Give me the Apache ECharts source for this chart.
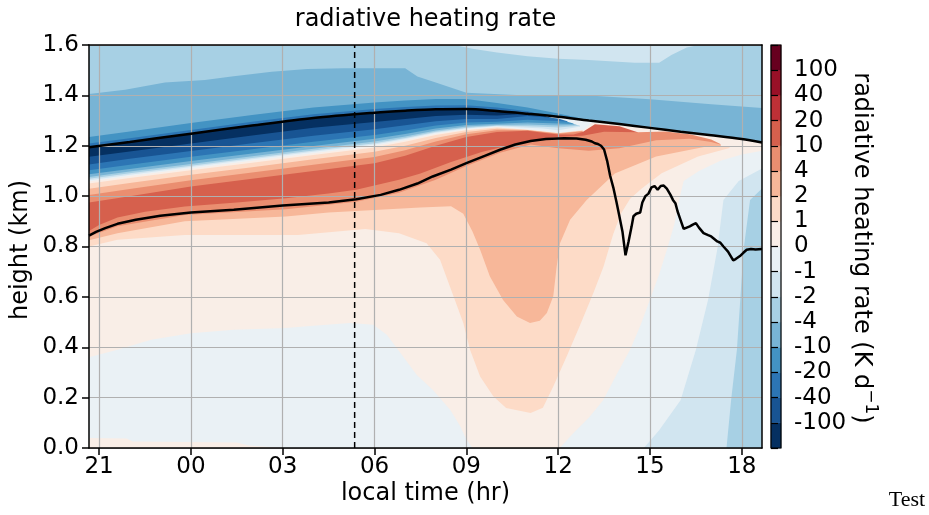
<!DOCTYPE html>
<html><head><meta charset="utf-8">
<script src="https://cdn.jsdelivr.net/npm/echarts@6/dist/echarts.min.js"></script>
<style>html,body{margin:0;padding:0;background:#fff}#c{width:929px;height:515px}</style>
</head><body><div id="c"></div>
<script>
// ================= DATA =================
// colour levels (K/day), contourf with extend='both' -> 16 colour bands
const levelBounds = [-100, -40, -20, -10, -4, -2, -1, 0, 1, 2, 4, 10, 20, 40, 100];
// x axis: local time in hours since midnight of day 1 (24 = 00 next day)
const timeTicks = [21, 24, 27, 30, 33, 36, 39, 42];
const heightTicks = [0, 0.2, 0.4, 0.6, 0.8, 1.0, 1.2, 1.4, 1.6];
const markerTime = 29.35;

// cloud top (upper black line) [time, km]
const cloudTop = [[20.67,1.194],[22,1.215],[24,1.248],[26,1.28],[28,1.31],[30,1.331],[31,1.339],[32,1.345],[33,1.346],[34,1.338],[35,1.327],[36,1.315],[37,1.30],[38,1.286],[39,1.271],[40,1.256],[41,1.242],[42,1.227],[42.66,1.213]];
// cloud base (lower black line)
const cloudBase = [[20.67,0.843],[20.9,0.858],[21.2,0.873],[21.6,0.89],[22.2,0.906],[23,0.922],[24,0.935],[25.4,0.946],[27,0.963],[28.5,0.975],[29.4,0.988],[30.2,1.005],[30.8,1.025],[31.4,1.05],[31.9,1.078],[32.5,1.105],[33,1.131],[33.6,1.16],[34.1,1.184],[34.6,1.205],[35.1,1.219],[35.6,1.227],[36.2,1.23],[36.6,1.229],[36.9,1.224],[37.1,1.217],[37.2,1.21],[37.3,1.207],[37.4,1.2],[37.5,1.185],[37.6,1.14],[37.7,1.08],[37.8,1.035],[37.9,0.98],[38.0,0.92],[38.1,0.86],[38.2,0.765],[38.3,0.82],[38.4,0.88],[38.46,0.92],[38.55,0.93],[38.68,0.935],[38.75,0.975],[38.85,1.0],[38.95,1.01],[39.05,1.035],[39.15,1.04],[39.25,1.025],[39.35,1.04],[39.45,1.042],[39.55,1.03],[39.67,1.005],[39.75,0.985],[39.83,0.972],[39.9,0.94],[40.0,0.905],[40.1,0.87],[40.2,0.875],[40.3,0.88],[40.4,0.887],[40.5,0.893],[40.6,0.875],[40.75,0.853],[40.9,0.845],[41.0,0.84],[41.1,0.83],[41.2,0.82],[41.3,0.815],[41.4,0.8],[41.55,0.78],[41.72,0.745],[41.8,0.75],[41.94,0.762],[42.05,0.775],[42.16,0.787],[42.3,0.79],[42.45,0.788],[42.66,0.79]];

// Contour band edges: each array is the upper edge [time, km] of a band of one colour level.
const edgeBackground6 = [[20.67,1.6],[42.66,1.6]];
const edgeUpper5 = [[20.67,1.6],[32.6,1.6],[33.2,1.585],[34,1.57],[35,1.555],[36,1.545],[37,1.54],[38.5,1.53],[39.3,1.53],[39.7,1.56],[40.2,1.59],[40.6,1.6],[42.66,1.6]];
const edgeUpper4 = [[20.67,1.405],[21.85,1.422],[23.15,1.451],[24.46,1.461],[25.33,1.475],[26.64,1.494],[27.8,1.505],[29,1.508],[31,1.508],[31.4,1.475],[31.9,1.455],[33,1.41],[35,1.40],[37,1.40],[39,1.385],[41,1.365],[42.66,1.35]];
const edgeUpper3 = [[20.67,1.235],[22,1.257],[24,1.29],[26,1.322],[28,1.352],[30,1.372],[31,1.38],[32,1.386],[33,1.386],[34,1.37],[35,1.352],[36,1.328],[36.5,1.315],[37,1.30]];
const edgeUpper2 = [[20.67,1.209],[22,1.23],[24,1.263],[26,1.295],[28,1.325],[30,1.346],[31,1.354],[32,1.36],[33,1.361],[34,1.352],[35,1.337],[35.6,1.32]];
const edgeTipPale7 = [[35.5,1.321],[36,1.315],[37,1.30],[37.6,1.291]];
const edgeCool0 = [[20.67,1.194],[22,1.215],[24,1.248],[26,1.28],[28,1.31],[30,1.331],[31,1.339],[32,1.345],[33,1.346],[34,1.338],[34.9,1.328]];
const edgeCool1 = [[20.67,1.156],[22,1.177],[24,1.209],[26,1.241],[28,1.271],[30,1.294],[31,1.306],[32,1.318],[33,1.323],[34,1.32],[35,1.327],[35.5,1.321],[35.8,1.31]];
const edgeCool2 = [[20.67,1.126],[22,1.148],[24,1.179],[26,1.21],[28,1.24],[30,1.266],[31,1.281],[32,1.297],[33,1.306],[34,1.306],[35,1.318],[35.5,1.314],[36,1.308],[36.3,1.297]];
const edgeCool3 = [[20.67,1.103],[22,1.125],[24,1.156],[26,1.186],[28,1.216],[30,1.243],[31,1.261],[32,1.28],[33,1.292],[34,1.295],[35,1.303],[35.5,1.30],[36,1.298],[36.3,1.295],[36.5,1.288]];
const edgeCool4 = [[20.67,1.087],[22,1.108],[24,1.139],[26,1.169],[28,1.199],[30,1.228],[31,1.247],[32,1.268],[33,1.282],[34,1.287],[35,1.292],[35.5,1.29],[36,1.288],[36.5,1.286],[36.6,1.283]];
const edgeCool5 = [[20.67,1.076],[22,1.098],[24,1.128],[26,1.158],[28,1.188],[30,1.217],[31,1.237],[32,1.261],[33,1.276],[34,1.282],[35,1.284],[35.5,1.282],[36,1.28],[36.6,1.282],[36.7,1.28]];
const edgeCool6 = [[20.67,1.069],[22,1.091],[24,1.121],[26,1.151],[28,1.181],[30,1.21],[31,1.231],[32,1.256],[33,1.271],[34,1.279],[35,1.277],[35.5,1.275],[36,1.272],[36.7,1.279],[36.75,1.278]];
const edgeCool7 = [[20.67,1.063],[22,1.085],[24,1.116],[26,1.146],[28,1.176],[30,1.205],[31,1.227],[32,1.252],[33,1.268],[34,1.277],[35,1.271],[35.5,1.268],[36,1.262],[36.75,1.276],[36.85,1.272]];
const edgeWarm8Upper = [[20.67,1.058],[22,1.08],[24,1.11],[26,1.14],[28,1.17],[30,1.20],[31,1.222],[32,1.248],[33,1.265],[34,1.274],[35,1.265],[35.5,1.26],[36,1.252],[36.5,1.255],[36.85,1.265],[37.1,1.29],[37.3,1.293],[38,1.284],[39,1.269],[40,1.254],[41,1.24],[42,1.225],[42.66,1.211]];
const edgeWarm9Upper = [[20.67,1.05],[22,1.072],[24,1.103],[26,1.133],[28,1.163],[30,1.193],[31,1.216],[32,1.243],[33,1.262],[34,1.272],[35,1.264],[36,1.251],[36.8,1.262]];
const edgeWarm10Upper = [[20.67,1.029],[22,1.052],[24,1.085],[26,1.115],[28,1.146],[30,1.176],[31,1.20],[32,1.231],[33,1.255],[34,1.267],[35,1.263],[36,1.25],[36.8,1.26]];
const edgeWarm11Upper = [[20.67,1.004],[22,1.028],[24,1.063],[26,1.094],[28,1.125],[30,1.155],[31,1.182],[32,1.217],[33,1.246],[34,1.262],[35,1.262],[36,1.248],[36.8,1.258]];
const edgeWarm12 = [[20.67,0.975],[22,1.0],[24,1.038],[26,1.069],[28,1.1],[30,1.131],[31,1.16],[32,1.2],[33,1.235],[34,1.255],[35,1.26],[35.5,1.252],[36,1.245],[36.5,1.245],[36.8,1.255],[37.2,1.285],[38,1.277],[38.6,1.254]];
const edgeWarm11Lower = [[20.67,0.862],[21,0.885],[21.6,0.915],[22.5,0.938],[23.8,0.959],[25.5,0.975],[27.1,0.992],[28.5,1.01],[29.4,1.025],[30.8,1.065],[31.5,1.09],[32.5,1.135],[33.5,1.175],[34.5,1.205],[35.1,1.22],[35.9,1.235],[36.8,1.24],[37.5,1.256],[38.6,1.254],[39.5,1.257],[40.3,1.246],[41.0,1.225],[41.3,1.207]];
const edgeWarm10Lower = [[20.67,0.84],[21.6,0.88],[23.8,0.925],[25.5,0.937],[27.1,0.948],[29.4,0.978],[30.8,1.013],[32,1.065],[33,1.12],[34.1,1.172],[35.1,1.205],[36,1.19],[37,1.18],[38,1.19],[39.2,1.222],[40.3,1.228],[41.0,1.215],[41.3,1.205]];
const edgeWarm9Lower = [[20.67,0.825],[21.6,0.853],[23.8,0.9],[27.1,0.919],[28.5,0.935],[30,0.945],[31.5,0.955],[32.5,0.96],[32.9,0.93],[33.2,0.86],[33.45,0.787],[33.77,0.681],[34.2,0.588],[34.65,0.522],[35.08,0.496],[35.4,0.505],[35.63,0.536],[35.84,0.602],[35.95,0.72],[36.06,0.813],[36.39,0.906],[36.93,0.985],[37.85,1.09],[39.2,1.157],[40.85,1.197],[41.6,1.195]];
const edgeWarm8Main = [[20.67,0.80],[21.6,0.827],[23.8,0.846],[27.5,0.846],[29.7,0.869],[30.8,0.853],[31.7,0.813],[32.14,0.747],[32.58,0.602],[32.9,0.496],[33.12,0.39],[33.45,0.284],[33.88,0.205],[34.3,0.159],[35.1,0.139],[35.5,0.16],[35.84,0.244],[36.28,0.364],[36.7,0.483],[37.15,0.615],[37.48,0.72],[37.8,0.85],[38.05,0.93],[38.35,0.99],[38.73,1.03],[39.38,1.091],[40.57,1.157],[41.78,1.197],[42.66,1.21]];
const edgeCool7LowLeft = [[20.67,0.36],[21.6,0.39],[22.7,0.43],[24,0.456],[25.4,0.469],[27.1,0.476],[28,0.485],[29.2,0.496],[29.96,0.489],[30.4,0.45],[30.83,0.38],[31.38,0.29],[31.9,0.231],[32.47,0.152],[32.8,0.086],[33.0,0.035],[33.2,0.0]];
const edgeWarm8Strip = [[20.67,0.04],[21.9,0.038],[22.1,0.026],[25.5,0.022],[25.9,0.01],[27,0.0]];
const edgeCool7Right = [[36.05,0.0],[36.5,0.06],[37.0,0.12],[37.47,0.19],[37.9,0.29],[38.35,0.39],[38.7,0.49],[39.0,0.59],[39.3,0.69],[39.56,0.79],[39.8,0.89],[39.95,0.985],[40.1,1.06],[40.6,1.1],[41.3,1.14],[42,1.165],[42.66,1.18]];
const edgeCool6Right = [[38.8,0.0],[39.3,0.07],[40.0,0.19],[40.5,0.39],[40.9,0.59],[41.2,0.79],[41.4,0.985],[41.9,1.06],[42.66,1.11]];
const edgeCool5Right = [[41.5,0.0],[41.65,0.19],[41.84,0.39],[41.95,0.59],[42.06,0.79],[42.27,0.985],[42.66,1.03]];

// colour level of each band (0 = below -100 ... 7 = -1..0, 8 = 0..1 ... 15 = above 100), in painting order
const bandLevels = [6, 5, 4, 3, 2, 7, 0, 1, 2, 3, 4, 5, 6, 7, 8, 9, 10, 11, 12, 11, 10, 9, 8, 7, 8, 7, 6, 5];
const bandEdges = [edgeBackground6, edgeUpper5, edgeUpper4, edgeUpper3, edgeUpper2, edgeTipPale7,
  edgeCool0, edgeCool1, edgeCool2, edgeCool3, edgeCool4, edgeCool5, edgeCool6, edgeCool7,
  edgeWarm8Upper, edgeWarm9Upper, edgeWarm10Upper, edgeWarm11Upper, edgeWarm12,
  edgeWarm11Lower, edgeWarm10Lower, edgeWarm9Lower, edgeWarm8Main, edgeCool7LowLeft, edgeWarm8Strip,
  edgeCool7Right, edgeCool6Right, edgeCool5Right];
// ================================================================

// colour-map (RdBu reversed), sampled at 16 evenly spaced points
const rdbuR = ['#053061','#2166ac','#4393c3','#92c5de','#d1e5f0','#f7f7f7','#fddbc7','#f4a582','#d6604d','#b2182b','#67001f'];
function hex(h){return [1,3,5].map(i=>parseInt(h.substr(i,2),16));}
function cmap(p){
  const x = p*10, i = Math.min(9, Math.floor(x)), f = x - i;
  const a = hex(rdbuR[i]), b = hex(rdbuR[i+1]);
  const c = a.map((v,j)=>Math.round(v+(b[j]-v)*f));
  return 'rgb('+c.join(',')+')';
}
const levelColors = []; for (let k=0;k<16;k++) levelColors.push(cmap(k/15));

const FONT = "'DejaVu Sans', sans-serif";
const fmtTime = v => String(((Math.round(v) % 24) + 24) % 24).padStart(2, '0');
const cbLabels = levelBounds.map(v => v < 0 ? '-' + Math.abs(v) : String(v));

const chart = echarts.init(document.getElementById('c'), null, {renderer: 'canvas'});

const fieldSeries = bandEdges.map((pts, i) => ({
  type: 'line', xAxisIndex: 0, yAxisIndex: 0, data: pts, symbol: 'none', showSymbol: false,
  lineStyle: {width: 0, opacity: 0}, silent: true, z: 1,
  areaStyle: {color: levelColors[bandLevels[i]], opacity: 1, origin: 'start'}
}));

const option = {
  animation: false,
  backgroundColor: '#fff',
  grid: [
    {left: 89, top: 45, width: 673, height: 403, show: false},
    {left: 771, top: 45, width: 10, height: 403, show: false}
  ],
  xAxis: [
    {type: 'value', gridIndex: 0, min: 20.67, max: 42.66, position: 'bottom', z: 5,
     axisLine: {show: true, onZero: false, lineStyle: {color: '#000', width: 1.5}},
     axisTick: {show: true, customValues: timeTicks, length: 7, lineStyle: {color: '#000', width: 1.5}},
     axisLabel: {customValues: timeTicks, formatter: fmtTime, color: '#000', fontSize: 23, fontFamily: FONT, margin: 8},
     splitLine: {show: true, lineStyle: {color: '#b0b0b0', width: 1.2}}},
    {type: 'value', gridIndex: 0, min: 20.67, max: 42.66, position: 'top', z: 5,
     axisLine: {show: true, onZero: false, lineStyle: {color: '#000', width: 1.5}},
     axisTick: {show: false}, axisLabel: {show: false}, splitLine: {show: false}},
    {type: 'value', gridIndex: 1, min: 0, max: 1, show: false}
  ],
  yAxis: [
    {type: 'value', gridIndex: 0, min: 0, max: 1.6, interval: 0.2, position: 'left', z: 5,
     axisLine: {show: true, onZero: false, lineStyle: {color: '#000', width: 1.5}},
     axisTick: {show: true, length: 7, lineStyle: {color: '#000', width: 1.5}},
     axisLabel: {formatter: v => v.toFixed(1), color: '#000', fontSize: 23, fontFamily: FONT, margin: 10},
     splitLine: {show: true, lineStyle: {color: '#b0b0b0', width: 1.2}}},
    {type: 'value', gridIndex: 0, min: 0, max: 1.6, position: 'right', z: 5,
     axisLine: {show: true, onZero: false, lineStyle: {color: '#000', width: 1.5}},
     axisTick: {show: false}, axisLabel: {show: false}, splitLine: {show: false}},
    {type: 'value', gridIndex: 1, min: 0, max: 16, interval: 1, position: 'right', z: 5,
     axisLine: {show: false},
     axisTick: {show: true, length: 7, lineStyle: {color: '#000', width: 1.2}},
     axisLabel: {formatter: v => (v >= 1 && v <= 15) ? cbLabels[v-1] : '', color: '#000', fontSize: 23, fontFamily: FONT, margin: 13},
     splitLine: {show: false}}
  ],
  graphic: [
    {type: 'text', x: 425.5, y: 20, style: {text: 'radiative heating rate', font: '24px ' + FONT, fill: '#000', textAlign: 'center', textVerticalAlign: 'middle'}},
    {type: 'text', x: 425.5, y: 494, style: {text: 'local time (hr)', font: '24px ' + FONT, fill: '#000', textAlign: 'center', textVerticalAlign: 'middle'}},
    {type: 'text', x: 21, y: 250, rotation: Math.PI/2, style: {text: 'height (km)', font: '24px ' + FONT, fill: '#000', textAlign: 'center', textVerticalAlign: 'middle'}},
    {type: 'text', x: 864, y: 248, rotation: -Math.PI/2, style: {
      text: '{a|radiative heating rate (K d}{s|\u22121}{a|)}', textAlign: 'center', textVerticalAlign: 'middle',
      rich: {a: {fontSize: 24, fontFamily: FONT, fill: '#000', lineHeight: 30, verticalAlign: 'bottom'},
             s: {fontSize: 17, fontFamily: FONT, fill: '#000', lineHeight: 30, verticalAlign: 'top'}}}},
    {type: 'text', x: 907, y: 500, style: {text: 'Test', font: "22px 'Liberation Serif', 'DejaVu Serif', serif", fill: '#000', textAlign: 'center', textVerticalAlign: 'middle'}}
  ],
  series: fieldSeries.concat([
    {type: 'line', xAxisIndex: 0, yAxisIndex: 0, data: cloudTop, symbol: 'none', z: 20, silent: true, smooth: 0.3,
     lineStyle: {color: '#000', width: 2.5}},
    {type: 'line', xAxisIndex: 0, yAxisIndex: 0, data: cloudBase, symbol: 'none', z: 20, silent: true,
     lineStyle: {color: '#000', width: 2.5}},
    {type: 'line', xAxisIndex: 0, yAxisIndex: 0, data: [[markerTime, 0], [markerTime, 1.6]], symbol: 'none', z: 20, silent: true,
     lineStyle: {color: '#000', width: 1.5, type: [6, 4]}},
    {type: 'custom', xAxisIndex: 2, yAxisIndex: 2, silent: true, z: 3,
     data: levelColors.map((c, k) => [0, k]),
     renderItem: (params, api) => {
       const k = api.value(1);
       const p0 = api.coord([0, k]), p1 = api.coord([1, k + 1]);
       return {type: 'rect', shape: {x: p0[0], y: p1[1], width: p1[0] - p0[0], height: p0[1] - p1[1]},
               style: {fill: levelColors[k], stroke: levelColors[k], lineWidth: 0.5}};
     }},
    {type: 'custom', xAxisIndex: 2, yAxisIndex: 2, silent: true, z: 4,
     data: [[0, 0]],
     renderItem: (params, api) => {
       const p0 = api.coord([0, 0]), p1 = api.coord([1, 16]);
       return {type: 'rect', shape: {x: p0[0], y: p1[1], width: p1[0] - p0[0], height: p0[1] - p1[1]},
               style: {fill: 'none', stroke: '#000', lineWidth: 1.2}};
     }}
  ])
};
chart.setOption(option);
</script>
</body></html>
